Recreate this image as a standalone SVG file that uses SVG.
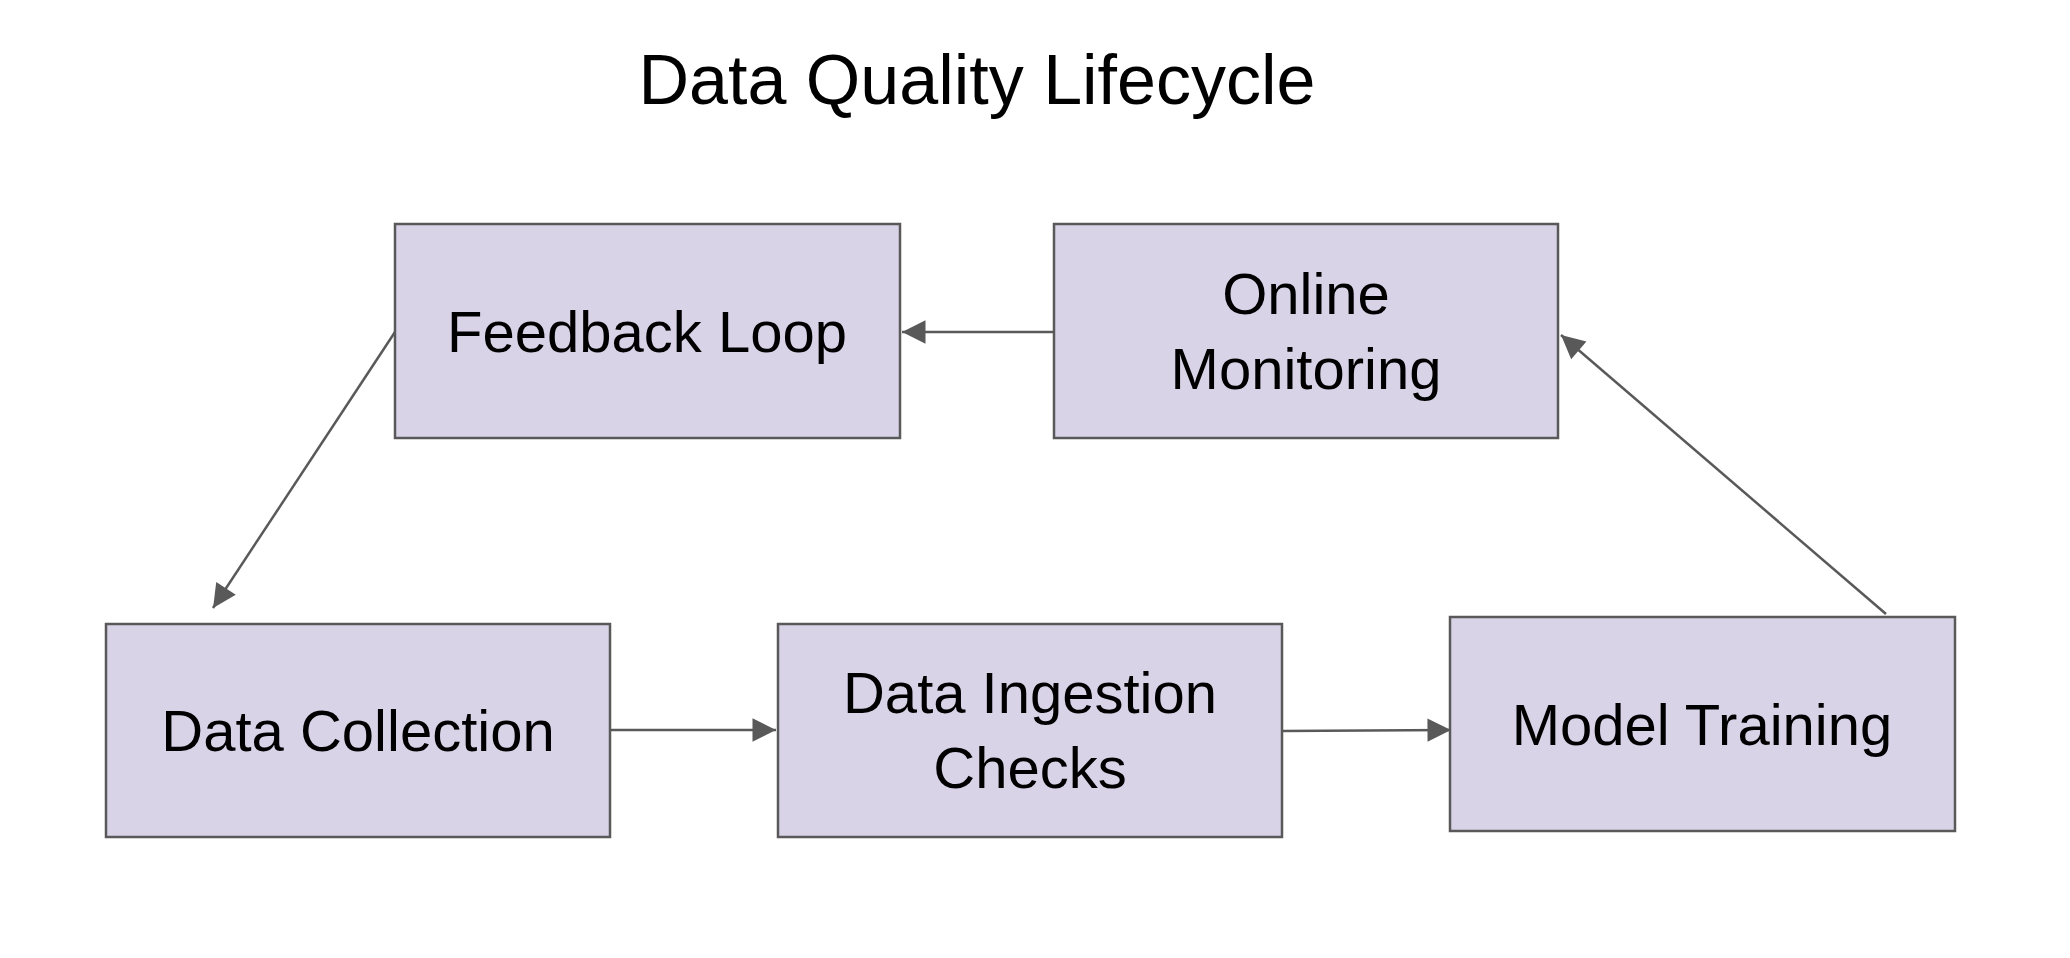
<svg xmlns="http://www.w3.org/2000/svg" width="2070" height="958" viewBox="0 0 2070 958">
<style>
.n{fill:#d9d3e8;stroke:#595959;stroke-width:2.5}
.t{font-family:"Liberation Sans",Arial,sans-serif;font-size:58px;fill:#000;text-anchor:middle}
.c{stroke:#595959;stroke-width:2.5;fill:none;marker-end:url(#a)}
</style>
<defs><marker id="a" viewBox="0 0 10 10" refX="10" refY="5" markerWidth="9" markerHeight="9" markerUnits="userSpaceOnUse" orient="auto" style="overflow:visible"><path d="M0,0L10,5L0,10z" fill="#595959" transform="scale(2.6) translate(-6.2,-3.1)"/></marker></defs>
<rect width="2070" height="958" fill="#fff"/>
<text x="977" y="104" class="t" style="font-size:70px">Data Quality Lifecycle</text>
<g id="connectors">
<line class="c" x1="1054" y1="332" x2="902" y2="332"/>
<line class="c" x1="395" y1="332" x2="213" y2="608"/>
<line class="c" x1="610" y1="730" x2="776" y2="730"/>
<line class="c" x1="1282" y1="731" x2="1451" y2="730"/>
<line class="c" x1="1886" y1="614" x2="1561" y2="335"/>
</g>
<g id="feedback"><rect class="n" x="395" y="224" width="505" height="214"/><text class="t" x="647" y="352">Feedback Loop</text></g>
<g id="monitoring"><rect class="n" x="1054" y="224" width="504" height="214"/><text class="t" x="1306" y="314">Online</text><text class="t" x="1306" y="389">Monitoring</text></g>
<g id="collection"><rect class="n" x="106" y="624" width="504" height="213"/><text class="t" x="358" y="751">Data Collection</text></g>
<g id="ingestion"><rect class="n" x="778" y="624" width="504" height="213"/><text class="t" x="1030" y="713">Data Ingestion</text><text class="t" x="1030" y="788">Checks</text></g>
<g id="training"><rect class="n" x="1450" y="617" width="505" height="214"/><text class="t" x="1702" y="745">Model Training</text></g>
</svg>
